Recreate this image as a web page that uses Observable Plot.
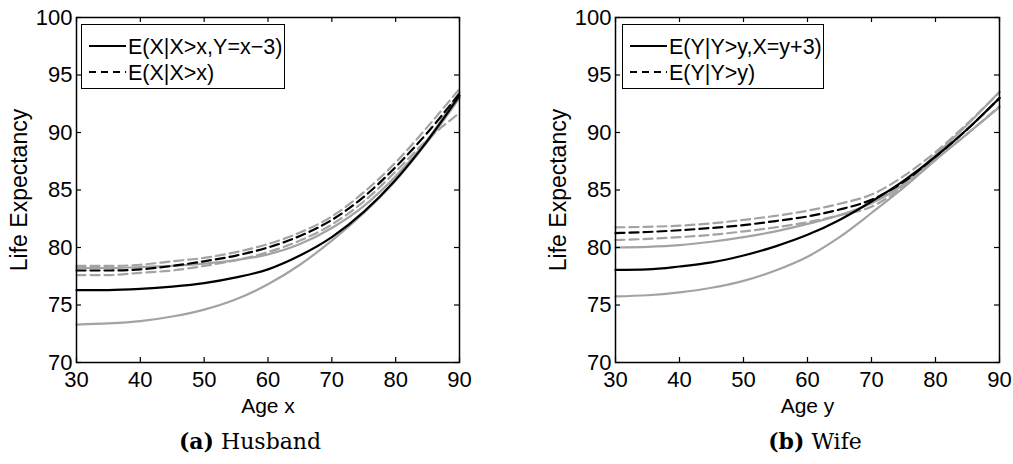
<!DOCTYPE html>
<html>
<head>
<meta charset="utf-8">
<script src="https://cdn.jsdelivr.net/npm/d3@7"></script>
<script src="https://cdn.jsdelivr.net/npm/@observablehq/plot@0.6"></script>
<style>
  html, body { margin: 0; padding: 0; background: #fff; }
  #wrap { position: relative; width: 1013px; height: 464px; overflow: hidden; font-family: "Liberation Sans", Arial, sans-serif; }
  .panel { position: absolute; top: 0; }
  .legend { position: absolute; box-sizing: border-box; border: 1px solid #000; background: #fff; }
  .caption { position: absolute; top: 430px; font-family: "DejaVu Serif", serif; font-size: 22px; color: #000; transform: translateX(-50%); white-space: nowrap; line-height: 1; }
</style>
</head>
<body>
<div id="wrap"></div>
<script>
// ---- data ----
const ages = [30, 35, 40, 45, 50, 55, 60, 65, 70, 75, 80, 85, 90];
const xTicks = [30, 40, 50, 60, 70, 80, 90];
const yTicks = [70, 75, 80, 85, 90, 95, 100];

// Husband panel (a)
const hCond      = [76.3, 76.3, 76.4, 76.6, 76.9, 77.4, 78.1, 79.3, 80.9, 83.1, 85.9, 89.3, 93.2];
const hCondLow   = [73.3, 73.4, 73.6, 74.0, 74.6, 75.5, 76.8, 78.5, 80.6, 83.0, 85.8, 89.2, 93.0];
const hCondHigh  = [78.2, 78.2, 78.3, 78.4, 78.6, 78.9, 79.4, 80.3, 81.7, 83.6, 86.2, 89.4, 93.5];
const hMarg      = [78.0, 78.0, 78.1, 78.4, 78.8, 79.3, 80.0, 81.0, 82.4, 84.4, 87.0, 90.0, 93.4];
const hMargHigh  = [78.4, 78.4, 78.5, 78.8, 79.1, 79.6, 80.3, 81.3, 82.7, 84.8, 87.4, 90.5, 93.8];
const hMargLow   = [77.6, 77.6, 77.8, 78.0, 78.4, 78.9, 79.6, 80.6, 82.0, 84.0, 86.6, 89.4, 91.7];

// Wife panel (b)
const wCond      = [78.05, 78.1, 78.35, 78.7, 79.3, 80.1, 81.1, 82.4, 84.0, 85.8, 87.9, 90.3, 93.0];
const wCondLow   = [75.75, 75.85, 76.1, 76.5, 77.1, 78.0, 79.2, 80.9, 83.0, 85.2, 87.6, 89.9, 92.2];
const wCondHigh  = [80.0, 80.05, 80.2, 80.5, 80.9, 81.4, 82.05, 82.8, 83.85, 85.5, 88.05, 90.7, 93.55];
const wMarg      = [81.25, 81.35, 81.5, 81.7, 81.95, 82.3, 82.7, 83.3, 84.15, 85.7, 87.9, 90.3, 93.0];
const wMargHigh  = [81.75, 81.8, 81.9, 82.1, 82.4, 82.75, 83.2, 83.8, 84.6, 86.2, 88.3, 90.8, 93.5];
const wMargLow   = [80.65, 80.75, 80.9, 81.1, 81.4, 81.75, 82.2, 82.8, 83.55, 85.3, 87.7, 89.9, 92.3];

const panels = [
  {left: 0, mL: 76, mR: 48, xLabel: "Age x", caption: "Husband", tag: "(a)", capX: 250,
   legend: ["E(X|X>x,Y=x\u22123)", "E(X|X>x)"], legendBox: [81, 24, 204, 65],
   cond: hCond, condLow: hCondLow, condHigh: hCondHigh, marg: hMarg, margHigh: hMargHigh, margLow: hMargLow},
  {left: 506, mL: 109, mR: 14, xLabel: "Age y", caption: "Wife", tag: "(b)", capX: 815,
   legend: ["E(Y|Y>y,X=y+3)", "E(Y|Y>y)"], legendBox: [622, 24, 202, 65],
   cond: wCond, condLow: wCondLow, condHigh: wCondHigh, marg: wMarg, margHigh: wMargHigh, margLow: wMargLow}
];

const grey = "#a3a3a3";
const dash = "9,5";
const W = 507, H = 420, MT = 17, MB = 58, TICK = 5;
const wrap = document.getElementById("wrap");

function series(vals) { return ages.map((a, i) => ({age: a, v: vals[i]})); }

for (const p of panels) {
  const plotW = W - p.mL - p.mR, plotH = H - MT - MB;
  const lineOpts = {x: "age", y: "v", curve: "monotone-x", strokeWidth: 2.2};
  const chart = Plot.plot({
    width: W,
    height: H,
    marginLeft: p.mL,
    marginRight: p.mR,
    marginTop: MT,
    marginBottom: MB,
    style: {fontFamily: "'Liberation Sans', Arial, sans-serif", fontSize: "22px", color: "#000", background: "#fff", overflow: "visible"},
    x: {domain: [30, 90]},
    y: {domain: [70, 100]},
    marks: [
      Plot.line(series(p.margHigh), {...lineOpts, stroke: grey, strokeDasharray: dash}),
      Plot.line(series(p.margLow), {...lineOpts, stroke: grey, strokeDasharray: dash}),
      Plot.line(series(p.condHigh), {...lineOpts, stroke: grey}),
      Plot.line(series(p.condLow), {...lineOpts, stroke: grey}),
      Plot.line(series(p.marg), {...lineOpts, stroke: "#000", strokeDasharray: dash}),
      Plot.line(series(p.cond), {...lineOpts, stroke: "#000"}),
      // tick labels + axis titles
      Plot.axisX({ticks: xTicks, anchor: "bottom", tickSize: 0, tickPadding: 9, label: null}),
      Plot.axisX({ticks: [], anchor: "bottom", tickSize: 0, label: p.xLabel, labelAnchor: "center", labelOffset: 50, labelArrow: "none", fontSize: 21}),
      Plot.axisY({ticks: yTicks, anchor: "left", tickSize: 0, tickPadding: 4, label: null}),
      Plot.axisY({ticks: [], anchor: "left", tickSize: 0, label: "Life Expectancy", labelAnchor: "center", labelOffset: 66, labelArrow: "none", fontSize: 23}),
      // inward ticks on all four sides
      Plot.ruleX(xTicks, {x: d => d, insetTop: plotH - TICK, stroke: "#000", strokeWidth: 1.2}),
      Plot.ruleX(xTicks, {x: d => d, insetBottom: plotH - TICK, stroke: "#000", strokeWidth: 1.2}),
      Plot.ruleY(yTicks, {y: d => d, insetRight: plotW - TICK, stroke: "#000", strokeWidth: 1.2}),
      Plot.ruleY(yTicks, {y: d => d, insetLeft: plotW - TICK, stroke: "#000", strokeWidth: 1.2}),
      Plot.frame({stroke: "#000", strokeWidth: 1.5})
    ]
  });
  chart.classList.add("panel");
  chart.style.left = p.left + "px";
  wrap.appendChild(chart);

  // legend
  const [lx, ly, lw, lh] = p.legendBox;
  const lg = document.createElement("div");
  lg.className = "legend";
  lg.style.left = lx + "px"; lg.style.top = ly + "px";
  lg.style.width = lw + "px"; lg.style.height = lh + "px";
  const svg = d3.create("svg").attr("width", lw - 2).attr("height", lh - 2)
    .style("position", "absolute").style("left", "0px").style("top", "0px").style("overflow", "visible");
  const rows = [{label: p.legend[0], dash: null, y: 21}, {label: p.legend[1], dash: "7,5", y: 47}];
  for (const r of rows) {
    svg.append("line").attr("x1", 7).attr("x2", 44).attr("y1", r.y).attr("y2", r.y)
      .attr("stroke", "#000").attr("stroke-width", 2.2).attr("stroke-dasharray", r.dash);
    svg.append("text")
      .attr("x", 46).attr("y", r.y)
      .attr("dy", "0.36em")
      .attr("font-family", "'Liberation Sans', Arial, sans-serif").attr("font-size", 21.5)
      .text(r.label);
  }
  lg.appendChild(svg.node());
  wrap.appendChild(lg);

  // caption
  const cap = document.createElement("div");
  cap.className = "caption";
  cap.style.left = p.capX + "px";
  cap.innerHTML = `<b>${p.tag}</b> ${p.caption}`;
  wrap.appendChild(cap);
}
</script>
</body>
</html>
